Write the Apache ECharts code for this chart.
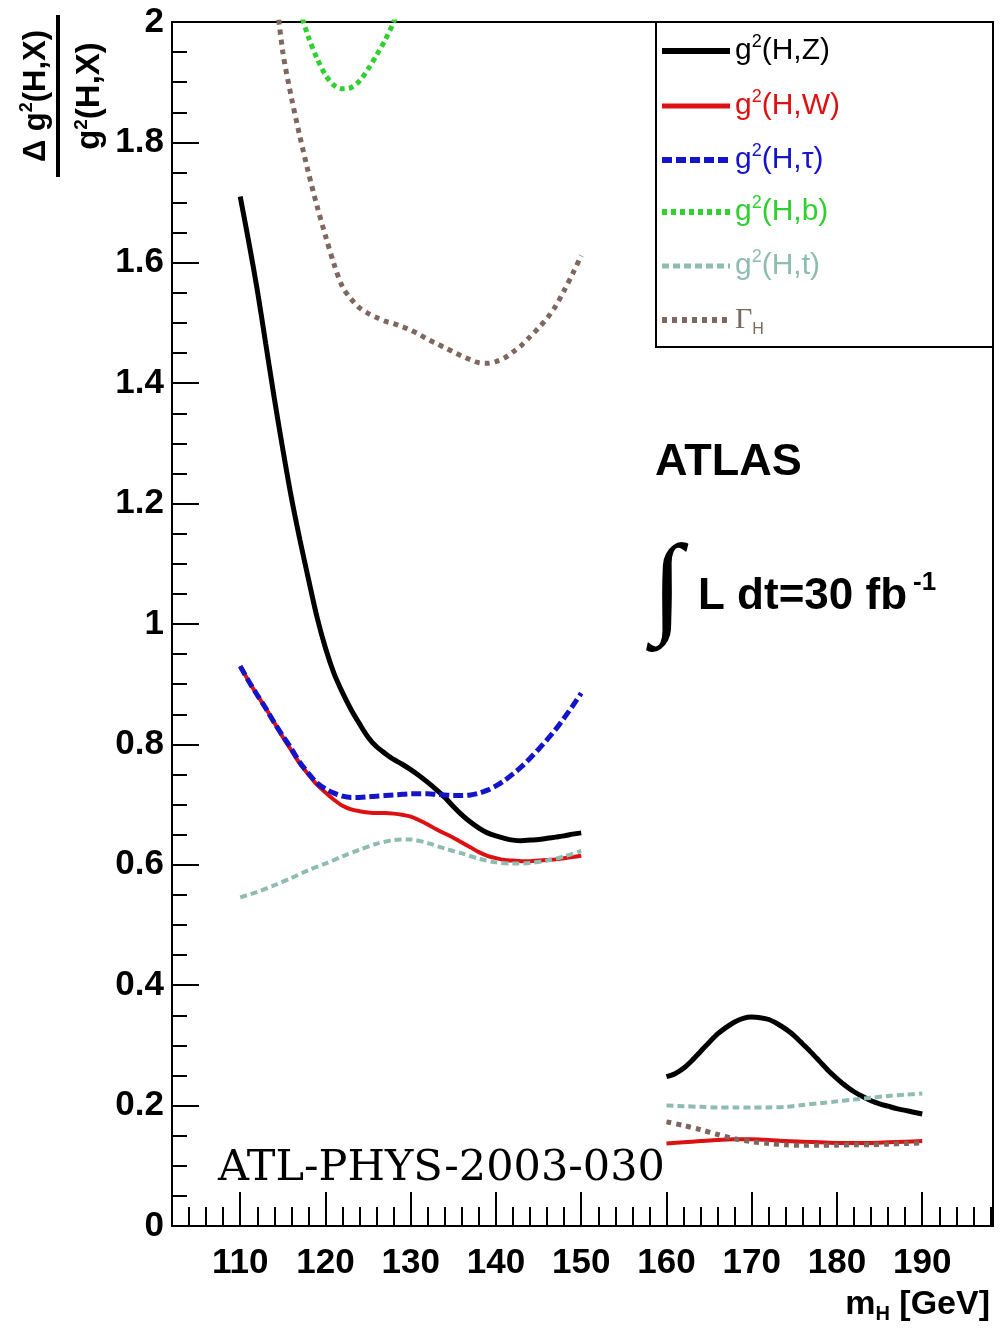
<!DOCTYPE html>
<html><head><meta charset="utf-8">
<script src="https://cdn.jsdelivr.net/npm/echarts@6/dist/echarts.min.js"></script>
<style>html,body{margin:0;padding:0;background:#fff}#c{width:1000px;height:1328px}</style>
</head><body><div id="c"></div>
<script>
// ---- masses ----
const mLow = [110,111,112,113,114,115,116,117,118,119,120,121,122,123,124,125,126,127,128,129,130,131,132,133,134,135,136,137,138,139,140,141,142,143,144,145,146,147,148,149,150];
const mLow2 = [110,112,114,116,118,120,122,124,126,128,130,132,134,136,138,140,142,144,146,148,150];
const mHigh = [160,161,162,163,164,165,166,167,168,169,170,171,172,173,174,175,176,177,178,179,180,181,182,183,184,185,186,187,188,189,190];
const mHigh2 = [160,162,164,166,168,170,172,174,176,178,180,182,184,186,188,190];
const mGamma = [114,115,116,117,118,119,120,121,122,123,124,125,126,127,128,129,130,131,132,133,134,135,136,137,138,139,140,141,142,143,144,145,146,147,148,149,150];
const mB = [117,118,119,120,121,122,123,124,125,126,127,128,129];

// ---- relative errors ----
const hzLow = [1.71,1.635,1.555,1.465,1.375,1.29,1.21,1.14,1.075,1.012,0.96,0.918,0.886,0.858,0.834,0.812,0.796,0.785,0.775,0.767,0.758,0.748,0.737,0.725,0.712,0.697,0.683,0.671,0.661,0.653,0.648,0.644,0.641,0.640,0.641,0.642,0.644,0.646,0.648,0.651,0.653];
const hzHigh = [0.248,0.253,0.262,0.275,0.290,0.305,0.319,0.330,0.339,0.345,0.347,0.346,0.343,0.336,0.327,0.316,0.302,0.288,0.273,0.258,0.245,0.233,0.223,0.215,0.208,0.203,0.199,0.195,0.192,0.189,0.186];
const hwLow = [0.930,0.905,0.882,0.860,0.836,0.812,0.790,0.768,0.750,0.733,0.720,0.708,0.698,0.692,0.689,0.687,0.686,0.686,0.685,0.683,0.680,0.674,0.667,0.659,0.652,0.645,0.637,0.629,0.621,0.615,0.611,0.608,0.607,0.606,0.606,0.607,0.608,0.609,0.611,0.613,0.615];
const hwHigh = [0.137,0.139,0.141,0.143,0.144,0.144,0.143,0.141,0.140,0.139,0.138,0.138,0.138,0.139,0.140,0.141];
const htauLow = [0.930,0.905,0.882,0.860,0.836,0.814,0.793,0.770,0.752,0.736,0.726,0.719,0.714,0.712,0.712,0.713,0.714,0.715,0.716,0.717,0.718,0.718,0.718,0.717,0.716,0.715,0.715,0.716,0.719,0.724,0.731,0.740,0.751,0.763,0.777,0.792,0.808,0.825,0.844,0.864,0.885];
const hbLow = [2.02,1.975,1.94,1.912,1.895,1.889,1.891,1.902,1.922,1.945,1.97,2.0,2.04];
const htLow = [0.546,0.555,0.566,0.578,0.591,0.602,0.614,0.625,0.635,0.641,0.642,0.636,0.627,0.619,0.610,0.604,0.602,0.603,0.607,0.614,0.623];
const htHigh = [0.200,0.199,0.198,0.197,0.197,0.197,0.197,0.198,0.201,0.204,0.207,0.210,0.213,0.216,0.218,0.220];
const gammaLow = [2.07,1.95,1.875,1.81,1.75,1.695,1.645,1.598,1.560,1.540,1.525,1.516,1.509,1.503,1.499,1.494,1.488,1.481,1.473,1.466,1.459,1.452,1.445,1.439,1.434,1.433,1.436,1.442,1.452,1.463,1.477,1.492,1.508,1.528,1.554,1.582,1.612];
const gammaHigh = [0.173,0.167,0.160,0.152,0.145,0.140,0.137,0.135,0.134,0.134,0.134,0.135,0.135,0.136,0.137,0.138];

// ---- ticks / labels ----
const xMajorTicks = [110,120,130,140,150,160,170,180,190];
const seriesNames = ['g2(H,Z)','g2(H,W)','g2(H,tau)','g2(H,b)','g2(H,t)','Gamma_H'];
const legendLabels = ['{n|g}{s|2}{n|(H,Z)}','{n|g}{s|2}{n|(H,W)}','{n|g}{s|2}{n|(H,τ)}','{n|g}{s|2}{n|(H,b)}','{n|g}{s|2}{n|(H,t)}','{G|Γ}{h|H}'];

const colors = ['#000000','#dd1111','#1414c8','#30d030','#8fbcb0','#7d675e'];
const widths = [5,4,5,5,4,5];
const dashes = ['solid','solid',[10,4],[5,4],[7,4],[5,5]];

function pairs(xs, ys){ return xs.map((x,i)=>[x, ys[i]]); }
function joined(xl, yl, xh, yh){
  let d = pairs(xl, yl);
  if (xh) { d.push([155, null]); d = d.concat(pairs(xh, yh)); }
  return d;
}
const seriesData = [
  joined(mLow, hzLow, mHigh, hzHigh),
  joined(mLow, hwLow, mHigh2, hwHigh),
  joined(mLow, htauLow),
  joined(mB, hbLow),
  joined(mLow2, htLow, mHigh2, htHigh),
  joined(mGamma, gammaLow, mHigh2, gammaHigh)
];

const chart = echarts.init(document.getElementById('c'), null, {renderer:'canvas'});
const FONT = 'Liberation Sans';

// legend drawn as graphic entries (line sample + rich label)
const legendY = [51,106,160,212,266,320];
const legendGraphics = [];
seriesNames.forEach((n,i)=>{
  legendGraphics.push({type:'line', z:100, shape:{x1:662, y1:legendY[i], x2:730, y2:legendY[i]},
    style:{stroke:colors[i], lineWidth:widths[i]+1, lineDash: dashes[i]==='solid' ? null : dashes[i]}});
  legendGraphics.push({type:'text', z:100, x:735, y:legendY[i], style:{text:legendLabels[i], verticalAlign:'middle', fill:colors[i],
    rich:{
      n:{font:'30px "Liberation Sans"', lineHeight:36, fill:colors[i]},
      s:{font:'18px "Liberation Sans"', lineHeight:16, verticalAlign:'top', fill:colors[i]},
      G:{font:'30px "Liberation Serif"', lineHeight:36, fill:colors[i]},
      h:{font:'16px "Liberation Sans"', lineHeight:14, verticalAlign:'bottom', fill:colors[i]}
    }}});
});

const option = {
  animation: false,
  backgroundColor: '#ffffff',
  grid: {left:172, right:7, top:22, bottom:102, show:true, borderColor:'#000', borderWidth:2, backgroundColor:'transparent'},
  xAxis: [
    {type:'value', min:102, max:198.3, interval:2, position:'bottom',
     axisLine:{lineStyle:{color:'#000', width:2}},
     axisTick:{inside:true, length:19, lineStyle:{color:'#000', width:2}},
     axisLabel:{show:false}, splitLine:{show:false}},
    {type:'value', min:102, max:198.3, position:'bottom',
     axisLine:{show:false},
     axisTick:{inside:true, length:34, customValues:xMajorTicks, lineStyle:{color:'#000', width:2}},
     axisLabel:{customValues:xMajorTicks, fontFamily:FONT, fontWeight:'bold', fontSize:35, color:'#000', margin:20},
     splitLine:{show:false}}
  ],
  yAxis: {type:'value', min:0, max:2, interval:0.2,
    axisLine:{show:true, lineStyle:{color:'#000', width:2}},
    axisTick:{inside:true, length:27, lineStyle:{color:'#000', width:2}},
    minorTick:{show:true, splitNumber:4, length:15, lineStyle:{color:'#000', width:2}},
    axisLabel:{fontFamily:FONT, fontWeight:'bold', fontSize:35, color:'#000', margin:8},
    splitLine:{show:false}, minorSplitLine:{show:false}},
  series: seriesNames.map((n,i)=>({
    name:n, type:'line', xAxisIndex:0, data:seriesData[i], showSymbol:false, symbol:'none',
    smooth:0.3, connectNulls:false, clip:true,
    lineStyle:{color:colors[i], width:widths[i], type:dashes[i]},
    itemStyle:{color:colors[i]}
  })),
  graphic: legendGraphics.concat([
    {type:'rect', z:100, shape:{x:656, y:22, width:337, height:325}, style:{fill:'transparent', stroke:'#000', lineWidth:2}},
    {type:'text', z:100, x:655, y:463, style:{text:'ATLAS', font:'bold 45px "Liberation Sans"', fill:'#000', verticalAlign:'middle'}},
    {type:'text', z:100, x:667, y:593, style:{text:'∫', font:'112px "Liberation Serif"', fill:'#000', align:'center', verticalAlign:'middle'}},
    {type:'text', z:100, x:698, y:597, style:{text:'L dt=30 fb', font:'bold 44px "Liberation Sans"', fill:'#000', verticalAlign:'middle'}},
    {type:'text', z:100, x:913, y:583, style:{text:'-1', font:'bold 26px "Liberation Sans"', fill:'#000', verticalAlign:'middle'}},
    {type:'text', z:100, x:218, y:1169, style:{text:'ATL-PHYS-2003-030', font:'43px "DejaVu Serif"', fill:'#000', verticalAlign:'middle'}},
    {type:'text', z:100, x:990, y:1305, style:{text:'{a|m}{b|H}{a| [GeV]}', align:'right', verticalAlign:'middle', fill:'#000',
      rich:{a:{font:'bold 34px "Liberation Sans"', lineHeight:38, fill:'#000'}, b:{font:'bold 20px "Liberation Sans"', lineHeight:20, verticalAlign:'bottom', fill:'#000'}}}},
    {type:'group', x:58, y:96, rotation:Math.PI/2, z:100, children:[
      {type:'text', x:0, y:-4, style:{text:'{n|Δ g}{s|2}{n|(H,X)}', align:'center', verticalAlign:'bottom', fill:'#000',
        rich:{n:{font:'bold 31px "Liberation Sans"', lineHeight:36, fill:'#000'}, s:{font:'bold 18px "Liberation Sans"', lineHeight:16, verticalAlign:'top', fill:'#000'}}}},
      {type:'line', shape:{x1:-81, y1:0, x2:81, y2:0}, style:{stroke:'#000', lineWidth:4}},
      {type:'text', x:0, y:14, style:{text:'{n|g}{s|2}{n|(H,X)}', align:'center', verticalAlign:'top', fill:'#000',
        rich:{n:{font:'bold 33px "Liberation Sans"', lineHeight:36, fill:'#000'}, s:{font:'bold 19px "Liberation Sans"', lineHeight:16, verticalAlign:'top', fill:'#000'}}}}
    ]}
  ])
};
chart.setOption(option);
</script>
</body></html>
